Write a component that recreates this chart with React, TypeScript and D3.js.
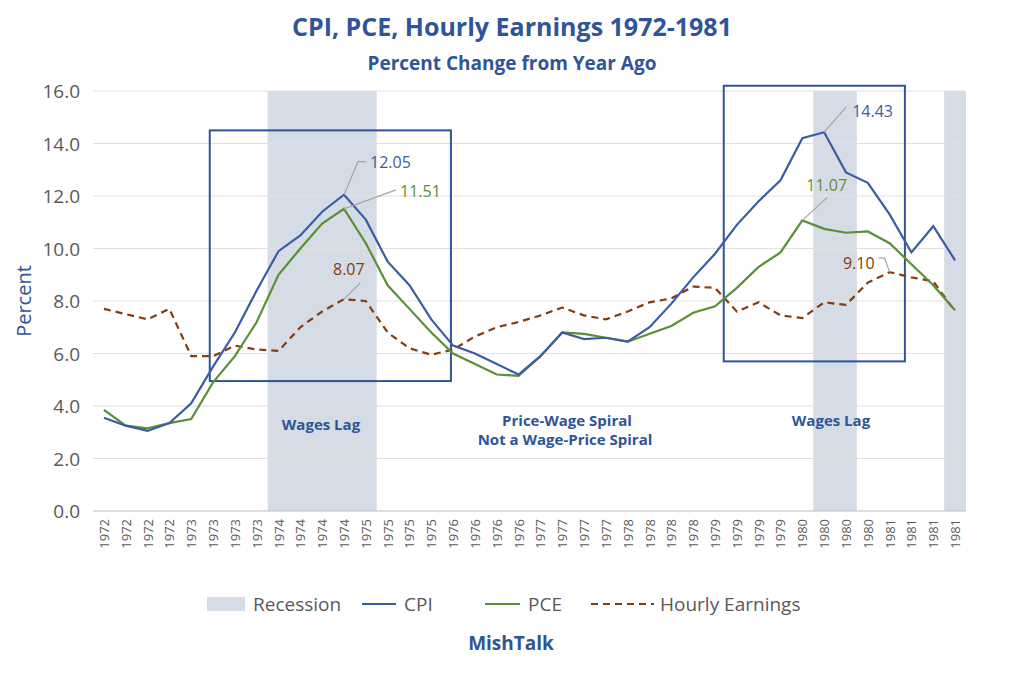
import * as d3 from 'd3';

const years = [1972, 1973, 1974, 1975, 1976, 1977, 1978, 1979, 1980, 1981];
const quarters = years.flatMap((y) => [0, 1, 2, 3].map(() => `${y}`));

const cpi = [3.55, 3.25, 3.05, 3.35, 4.1, 5.5, 6.8, 8.4, 9.9, 10.5, 11.4, 12.05, 11.1, 9.5, 8.6, 7.3, 6.3, 6.0, 5.6, 5.2,
  5.9, 6.8, 6.55, 6.6, 6.45, 7.0, 7.9, 8.9, 9.8, 10.9, 11.8, 12.6, 14.2, 14.43, 12.9, 12.5, 11.3, 9.85, 10.85, 9.55];
const pce = [3.85, 3.25, 3.15, 3.35, 3.5, 4.9, 5.9, 7.2, 9.0, 10.0, 10.95, 11.51, 10.2, 8.6, 7.7, 6.8, 6.0, 5.6, 5.2, 5.15,
  5.9, 6.8, 6.75, 6.6, 6.45, 6.75, 7.05, 7.55, 7.8, 8.5, 9.3, 9.85, 11.07, 10.75, 10.6, 10.65, 10.2, 9.4, 8.6, 7.65];
const hourly = [7.7, 7.5, 7.3, 7.7, 5.9, 5.9, 6.3, 6.15, 6.1, 7.0, 7.6, 8.07, 8.0, 6.8, 6.2, 5.95, 6.15, 6.65, 7.0, 7.2,
  7.45, 7.75, 7.45, 7.3, 7.6, 7.95, 8.1, 8.55, 8.5, 7.6, 7.95, 7.45, 7.35, 7.95, 7.85, 8.7, 9.1, 8.9, 8.75, 7.6];
// recession quarters: [first index, last index]
const recessions = [[8, 12], [33, 34], [39, 39]];
const yTicks = [0, 2, 4, 6, 8, 10, 12, 14, 16];

const W = 1024, H = 685;
const left = 93, right = 966, top = 91, bottom = 511;
const BLUE = '#2f5597', CPI_C = '#3a5ca4', PCE_C = '#5b8f35', HE_C = '#843c0c';
const FONT = "'Open Sans', 'Noto Sans', sans-serif";

export default function App() {
  const idx = quarters.map((_, i) => i);
  const xb = d3.scaleBand<number>().domain(idx).range([left, right]);
  const step = xb.step();
  const x = (i: number) => (xb(Math.floor(i)) ?? 0) + step / 2 + (i - Math.floor(i)) * step;
  const y = d3.scaleLinear().domain([0, 16]).range([bottom, top]);
  const line = (vals: number[]) => d3.line<number>().x((_, i) => x(i)).y((v) => y(v))(vals) ?? '';

  // ex/ey: leader elbow, hx: horizontal tail, tx/ty: text offset
  const callouts = [
    { i: 11, v: cpi[11], c: CPI_C, ex: 14, ey: -33, hx: 8, tx: 26, ty: -27, anchor: 'start' },
    { i: 11, v: pce[11], c: PCE_C, ex: 52, ey: -19, hx: 0, tx: 56, ty: -12, anchor: 'start' },
    { i: 11, v: hourly[11], c: HE_C, ex: 16, ey: -16, hx: 0, tx: -11, ty: -24, anchor: 'start' },
    { i: 33, v: cpi[33], c: CPI_C, ex: 22, ey: -25, hx: 0, tx: 28, ty: -15, anchor: 'start' },
    { i: 32, v: pce[32], c: PCE_C, ex: 25, ey: -23, hx: 0, tx: 4, ty: -29, anchor: 'start' },
    { i: 36, v: hourly[36], c: HE_C, ex: -5, ey: -14, hx: -6, tx: -15, ty: -3, anchor: 'end' },
  ];

  return (
    <svg width={W} height={H} style={{ position: 'absolute', left: 0, top: 0 }} fontFamily={FONT}>
      <rect width={W} height={H} fill="#fff" />
      <text x={512} y={36} textAnchor="middle" fontSize={25} fontWeight="bold" fill={BLUE}>CPI, PCE, Hourly Earnings 1972-1981</text>
      <text x={512} y={70} textAnchor="middle" fontSize={19} fontWeight="bold" fill={BLUE}>Percent Change from Year Ago</text>

      {recessions.map(([a, b], k) => (
        <rect key={k} x={xb(a)} y={top} width={Math.min((xb(b) ?? 0) + step, right) - (xb(a) ?? 0)} height={bottom - top} fill="#d6dce5" />
      ))}
      {yTicks.map((t) => (
        <g key={t}>
          <line x1={left} x2={right} y1={y(t)} y2={y(t)} stroke={t === 0 ? '#bfbfbf' : '#e0e0e0'} />
          <text x={80} y={y(t) + 7} textAnchor="end" fontSize={19} fill="#595959">{t.toFixed(1)}</text>
        </g>
      ))}
      <text transform={`translate(31,${(top + bottom) / 2}) rotate(-90)`} textAnchor="middle" fontSize={20} fill={BLUE}>Percent</text>
      {quarters.map((q, i) => (
        <text key={i} transform={`translate(${x(i) + 5},${bottom + 8}) rotate(-90)`} textAnchor="end" fontSize={13} fill="#595959">{q}</text>
      ))}

      <rect x={x(4.85)} y={y(14.5)} width={x(15.9) - x(4.85)} height={y(4.95) - y(14.5)} fill="none" stroke={BLUE} strokeWidth={2} />
      <rect x={x(28.4)} y={y(16.2)} width={x(36.7) - x(28.4)} height={y(5.7) - y(16.2)} fill="none" stroke={BLUE} strokeWidth={2} />

      <path d={line(hourly)} fill="none" stroke={HE_C} strokeWidth={2.2} strokeDasharray="7,5" />
      <path d={line(pce)} fill="none" stroke={PCE_C} strokeWidth={2.2} />
      <path d={line(cpi)} fill="none" stroke={CPI_C} strokeWidth={2.2} />

      {callouts.map((c, k) => {
        const px = x(c.i), py = y(c.v);
        return (
          <g key={k}>
            <polyline points={`${px},${py} ${px + c.ex},${py + c.ey} ${px + c.ex + c.hx},${py + c.ey}`} fill="none" stroke="#a6a6a6" strokeWidth={1.2} />
            <text x={px + c.tx} y={py + c.ty} fontSize={16} fill={c.c} textAnchor={c.anchor}>{c.v.toFixed(2)}</text>
          </g>
        );
      })}

      <g fontSize={15} fontWeight="bold" fill={BLUE} textAnchor="middle">
        <text x={321} y={430}>Wages Lag</text>
        <text x={567} y={426}>Price-Wage Spiral</text>
        <text x={565} y={445}>Not a Wage-Price Spiral</text>
        <text x={831} y={426}>Wages Lag</text>
      </g>

      <g fontSize={19} fill="#595959">
        <rect x={207} y={597} width={38} height={14} fill="#d6dce5" />
        <text x={253} y={611}>Recession</text>
        <line x1={362} x2={396} y1={604} y2={604} stroke={CPI_C} strokeWidth={2.2} />
        <text x={404} y={611}>CPI</text>
        <line x1={485} x2={520} y1={604} y2={604} stroke={PCE_C} strokeWidth={2.2} />
        <text x={528} y={611}>PCE</text>
        <line x1={591} x2={654} y1={604} y2={604} stroke={HE_C} strokeWidth={2.2} strokeDasharray="7,5" />
        <text x={660} y={611}>Hourly Earnings</text>
      </g>
      <text x={511} y={650} textAnchor="middle" fontSize={19} fontWeight="bold" fill={BLUE}>MishTalk</text>
    </svg>
  );
}
